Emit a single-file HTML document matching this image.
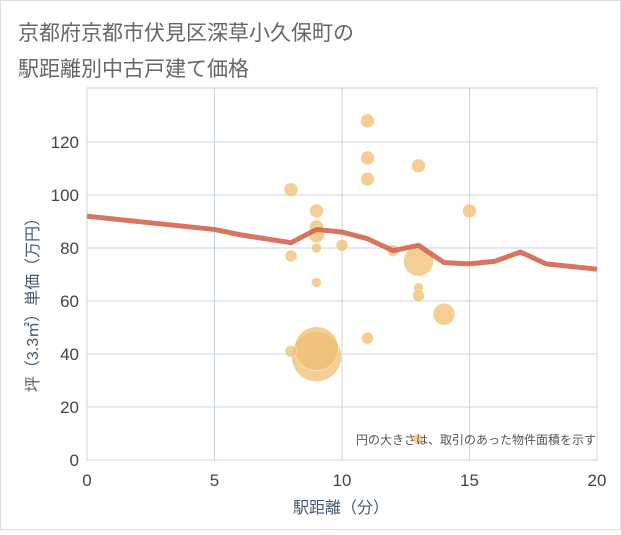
<!DOCTYPE html>
<html><head><meta charset="utf-8"><style>
body{margin:0;background:#fff;}
svg{font-family:"Liberation Sans","Noto Sans CJK JP",sans-serif;}
</style></head><body>
<svg id="c" width="621" height="530">
<rect x="0.5" y="0.5" width="620" height="529" fill="#fff" stroke="#ddd"/>
<text x="18" y="40" font-size="21" fill="#666">京都府京都市伏見区深草小久保町の</text>
<text x="18" y="76" font-size="21" fill="#666">駅距離別中古戸建て価格</text>
<g id="grid"></g><g id="bubbles"></g><g id="line"></g><g id="axes"></g>
<text x="341" y="513" font-size="16" fill="#4a5a6e" text-anchor="middle">駅距離（分）</text>
<text transform="translate(38,301) rotate(-90)" font-size="16" fill="#4a5a6e" text-anchor="middle">坪（3.3㎡）単価（万円）</text>
<circle cx="418" cy="439" r="5" fill="#f0c074" opacity="0.75"/>
<text x="596" y="444" font-size="12" fill="#555" text-anchor="end">円の大きさは、取引のあった物件面積を示す</text>
</svg>
<script>
const xTicks=[0,5,10,15,20];
const yTicks=[0,20,40,60,80,100,120];
const lineX=[0,5,6,8,9,10,11,12,13,14,15,16,17,18,20];
const lineY=[92,87,85,82,87,86,83.5,79,81,74.5,74,75,78.5,74,72];
const bubX=[9,9,8,8,8,9,9,9,9,9,10,11,11,11,11,12,13,13,13,13,14,15];
const bubY=[39,42,102,77,41,94,88,85,80,67,81,128,114,106,46,79,111,75,65,62,55,94];
const bubR=[25,22,7,6,6,7,7,8,5,5,6,7,7,7,6,6,7,15,5,6,11,7];
const NS="http://www.w3.org/2000/svg";
const X0=87,X1=597,Y0=460,Y1=142;
const sx=v=>X0+(X1-X0)*v/20;
const sy=v=>Y0-(Y0-Y1)*v/120;
function mk(t,a,p){const e=document.createElementNS(NS,t);for(const k in a)e.setAttribute(k,a[k]);p.appendChild(e);return e;}
const g=document.getElementById('grid'),ax=document.getElementById('axes');
mk('rect',{x:X0,y:88,width:X1-X0,height:Y0-88,fill:'none',stroke:'#ccc'},g);
xTicks.forEach(t=>{const l=mk('line',{x1:sx(t),x2:sx(t),y1:88,y2:Y0,stroke:'#c8d4e2'},g);


const tx=mk('text',{x:sx(t),y:486,'font-size':17,fill:'#444','text-anchor':'middle'},ax);tx.textContent=t;

});
yTicks.forEach(t=>{const l=mk('line',{x1:X0,x2:X1,y1:sy(t),y2:sy(t),stroke:'#c8d4e2'},g);


const tx=mk('text',{x:79,y:sy(t)+6,'font-size':17,fill:'#444','text-anchor':'end'},ax);tx.textContent=t;

});
const b=document.getElementById('bubbles');
bubX.forEach((v,i)=>{const c=mk('circle',{cx:sx(v),cy:sy(bubY[i]),r:bubR[i],fill:'#f0c074',opacity:0.75,stroke:'#fff','stroke-width':0.5},b);

});
const p=mk('polyline',{points:lineX.map((v,i)=>sx(v)+','+sy(lineY[i])).join(' '),fill:'none',stroke:'#d4664f','stroke-width':5,'stroke-linejoin':'round',opacity:0.9},document.getElementById('line'));


</script>
</body></html>
